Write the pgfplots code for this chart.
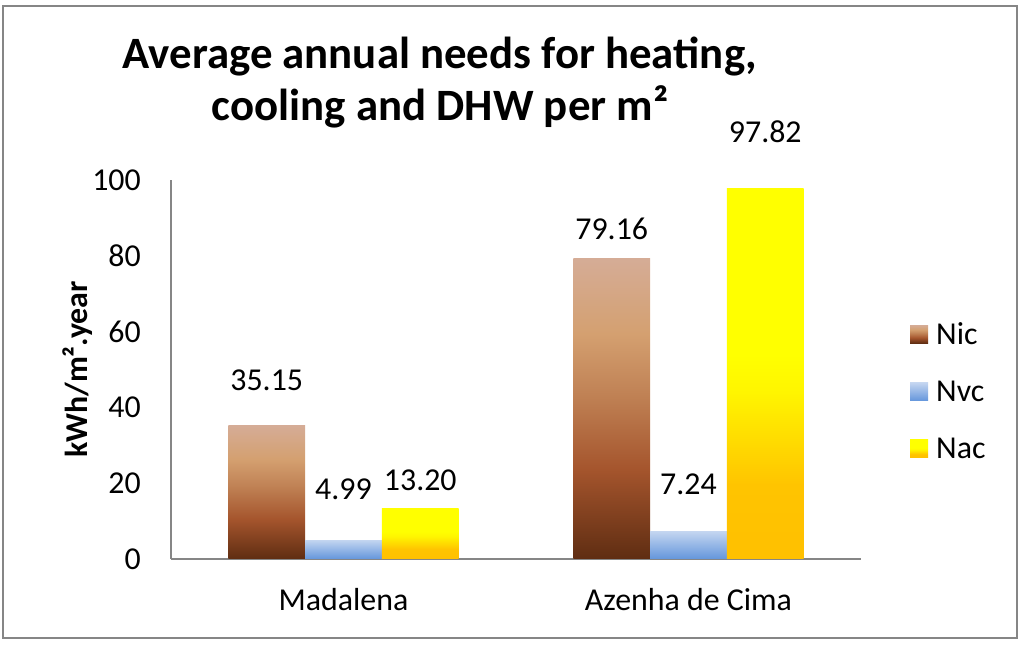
\documentclass[border=0pt]{standalone}
\usepackage{pgfplots}
\pgfplotsset{compat=1.18}
\usepackage{pgfplotstable}
\usepackage{fontspec}
\setmainfont{Carlito}

\definecolor{axisgray}{RGB}{134,134,134}
\definecolor{nicA}{RGB}{95,45,18}
\definecolor{nicB}{RGB}{165,85,45}
\definecolor{nicC}{RGB}{192,130,85}
\definecolor{nicD}{RGB}{212,160,112}
\definecolor{nicE}{RGB}{213,172,150}
\definecolor{nvcA}{RGB}{100,150,220}
\definecolor{nvcB}{RGB}{195,213,240}
\definecolor{nacA}{RGB}{255,192,0}
\definecolor{nacB}{RGB}{255,196,0}
\definecolor{nacC}{RGB}{255,245,0}
\definecolor{nacD}{RGB}{255,255,0}

\pgfdeclareverticalshading{nicshade}{100bp}{color(0bp)=(nicA); color(25bp)=(nicA); color(40bp)=(nicB); color(52.5bp)=(nicC); color(62.5bp)=(nicD); color(75bp)=(nicE); color(100bp)=(nicE)}
\pgfdeclareverticalshading{nvcshade}{100bp}{color(0bp)=(nvcA); color(25bp)=(nvcA); color(75bp)=(nvcB); color(100bp)=(nvcB)}
\pgfdeclareverticalshading{nacshade}{100bp}{color(0bp)=(nacA); color(25bp)=(nacA); color(35bp)=(nacB); color(47.5bp)=(nacC); color(52.5bp)=(nacD); color(75bp)=(nacD); color(100bp)=(nacD)}

\pgfplotstableread{
x y off
0.5 35.15 45
1.5 79.16 30
}\nic
\pgfplotstableread{
x y off
0.5 4.99 51
1.5 7.24 47
}\nvc
\pgfplotstableread{
x y off
0.5 13.20 29
1.5 97.82 57
}\nac

\pgfplotsset{
  first/.style={skip coords between index={1}{2}},
  second/.style={skip coords between index={0}{1}},
}

\begin{document}
\begin{tikzpicture}
\useasboundingbox (0bp,0bp) rectangle (1024bp,646bp);
\draw[line width=2bp, axisgray] (3bp,8bp) rectangle (1017bp,640bp);
\begin{axis}[
  at={(171bp,87bp)}, anchor=south west,
  scale only axis, width=690bp, height=379bp,
  xmin=0, xmax=2, ymin=0, ymax=100,
  axis x line*=bottom, axis y line*=left,
  axis line style={draw=axisgray, line width=1.5bp, -},
  ytick={0,20,...,100},
  xtick={0.5,1.5}, xticklabels={Madalena, Azenha de Cima},
  major tick length=0pt,
  /pgf/number format/assume math mode=true,
  tick label style={font=\fontsize{32}{38}\selectfont, text=black},
  yticklabel style={anchor=east, inner sep=0pt, xshift=-30bp},
  xticklabel style={anchor=north, inner sep=0pt, yshift=-29bp},
  ylabel={\textbf{kWh/m².year}},
  ylabel style={at={(axis description cs:-0.135,0.5)}, anchor=center, font=\fontsize{32}{38}\selectfont},
  title={Average annual needs for heating,\\cooling and DHW per m²},
  title style={at={(axis description cs:0.39,1.2414)}, anchor=center, align=center, font=\bfseries\fontsize{45}{53}\selectfont},
  ybar=0pt, bar width=0.2225,
  nodes near coords={\pgfmathprintnumber[fixed,zerofill,precision=2]{\pgfplotspointmeta}},
  every node near coord/.append style={anchor=center, text=black, font=\fontsize{32}{38}\selectfont, yshift=\myoff bp},
  legend style={at={(axis description cs:1.0667,0.443)}, anchor=west, draw=none, fill=none,
    font=\fontsize{32}{38}\selectfont, row sep=31bp, legend cell align=left},
  legend image code/.code={\path[#1, draw=none] (0bp,-9bp) rectangle (18bp,9bp); \path (24bp,0bp);},
  clip=false,
]
\addplot[draw=none, shading=nicshade, bar shift=-0.2225, first, visualization depends on={\thisrow{off}\as\myoff}] table[x=x,y=y]{\nic};
\addlegendentry{Nic}
\addplot[draw=none, shading=nvcshade, bar shift=0, first, visualization depends on={\thisrow{off}\as\myoff}] table[x=x,y=y]{\nvc};
\addlegendentry{Nvc}
\addplot[draw=none, shading=nacshade, bar shift=0.2225, first, visualization depends on={\thisrow{off}\as\myoff}] table[x=x,y=y]{\nac};
\addlegendentry{Nac}
\addplot[forget plot, draw=none, shading=nicshade, bar shift=-0.2225, second, visualization depends on={\thisrow{off}\as\myoff}] table[x=x,y=y]{\nic};
\addplot[forget plot, draw=none, shading=nvcshade, bar shift=0, second, visualization depends on={\thisrow{off}\as\myoff}] table[x=x,y=y]{\nvc};
\addplot[forget plot, draw=none, shading=nacshade, bar shift=0.2225, second, visualization depends on={\thisrow{off}\as\myoff}] table[x=x,y=y]{\nac};
\end{axis}
\end{tikzpicture}
\end{document}
